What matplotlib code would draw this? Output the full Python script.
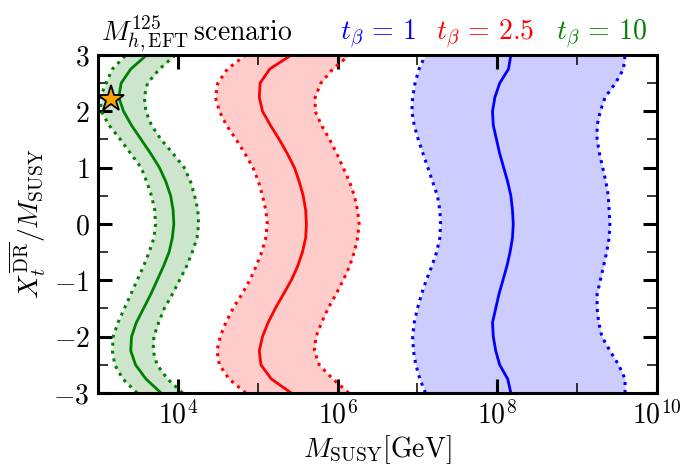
import numpy as np
import matplotlib
matplotlib.use("Agg")
import matplotlib.pyplot as plt
from matplotlib.ticker import FixedLocator, FixedFormatter, NullFormatter

plt.rcParams['mathtext.fontset'] = 'cm'
plt.rcParams['font.family'] = ['DejaVu Serif']

# X_t / M_SUSY grid
xt = [-3, -2.75, -2.5, -2.25, -2, -1.75, -1.5, -1.25, -1, -0.75, -0.5, -0.25, 0,
      0.25, 0.5, 0.75, 1, 1.25, 1.5, 1.75, 2, 2.25, 2.5, 2.75, 3]

# log10(M_SUSY / GeV) for each curve
tb10_central = [3.79, 3.60, 3.47, 3.41, 3.42, 3.48, 3.57, 3.66, 3.74, 3.82, 3.89, 3.93, 3.95,
                3.94, 3.91, 3.85, 3.77, 3.66, 3.54, 3.42, 3.32, 3.26, 3.29, 3.41, 3.61]
tb10_low = [3.49, 3.31, 3.21, 3.18, 3.19, 3.25, 3.33, 3.41, 3.49, 3.57, 3.64, 3.70, 3.72,
            3.71, 3.67, 3.61, 3.54, 3.41, 3.28, 3.14, 3.04, 3.03, 3.10, 3.18, 3.35]
tb10_high = [4.06, 3.87, 3.74, 3.69, 3.70, 3.76, 3.83, 3.93, 4.02, 4.11, 4.18, 4.24, 4.26,
             4.25, 4.21, 4.16, 4.08, 3.94, 3.79, 3.67, 3.60, 3.58, 3.62, 3.77, 3.97]

tb25_central = [5.42, 5.17, 5.04, 5.02, 5.06, 5.13, 5.22, 5.32, 5.42, 5.50, 5.56, 5.60, 5.61,
                5.60, 5.57, 5.52, 5.46, 5.37, 5.27, 5.16, 5.06, 5.02, 5.03, 5.15, 5.42]
tb25_low = [4.85, 4.64, 4.52, 4.49, 4.53, 4.60, 4.69, 4.80, 4.90, 4.98, 5.05, 5.10, 5.12,
            5.10, 5.06, 5.01, 4.94, 4.84, 4.73, 4.61, 4.52, 4.47, 4.50, 4.62, 4.85]
tb25_high = [6.14, 5.94, 5.77, 5.71, 5.73, 5.80, 5.88, 5.98, 6.07, 6.15, 6.21, 6.25, 6.27,
             6.25, 6.21, 6.15, 6.07, 5.99, 5.90, 5.80, 5.72, 5.72, 5.79, 5.94, 6.15]

tb1_central = [8.17, 8.13, 8.03, 7.98, 7.95, 7.94, 7.98, 8.02, 8.07, 8.12, 8.16, 8.19, 8.20,
               8.19, 8.17, 8.13, 8.08, 8.03, 7.99, 7.95, 7.94, 7.97, 8.03, 8.14, 8.17]
tb1_low = [7.10, 7.03, 6.98, 6.95, 6.94, 6.96, 7.00, 7.05, 7.11, 7.18, 7.24, 7.28, 7.29,
           7.28, 7.25, 7.19, 7.13, 7.07, 7.01, 6.96, 6.93, 6.94, 6.97, 7.02, 7.10]
tb1_high = [9.60, 9.60, 9.52, 9.41, 9.31, 9.27, 9.25, 9.25, 9.29, 9.33, 9.37, 9.40, 9.41,
            9.40, 9.39, 9.36, 9.32, 9.28, 9.25, 9.25, 9.29, 9.35, 9.48, 9.58, 9.60]

star_M = 1.47e3
star_xt = 2.22

xmajor = [1e4, 1e6, 1e8, 1e10]
xmajor_labels = [r"$10^{4}$", r"$10^{6}$", r"$10^{8}$", r"$10^{10}$"]
xminor = [1e5, 1e7, 1e9]
ymajor = [-3, -2, -1, 0, 1, 2, 3]
ymajor_labels = [r"$-3$", r"$-2$", r"$-1$", r"$0$", r"$1$", r"$2$", r"$3$"]
yminor = [-2.5, -1.5, -0.5, 0.5, 1.5, 2.5]

fig = plt.figure(figsize=(6.94, 4.76), dpi=100)
ax = fig.add_axes([0.1412, 0.1744, 0.9467 - 0.1412, 0.8845 - 0.1744])

series = [
    (tb10_central, tb10_low, tb10_high, 'green'),
    (tb25_central, tb25_low, tb25_high, 'red'),
    (tb1_central, tb1_low, tb1_high, 'blue'),
]
xt_arr = np.array(xt)
for c, lo, hi, col in series:
    c = 10 ** np.array(c)
    lo = 10 ** np.array(lo)
    hi = 10 ** np.array(hi)
    ax.fill_betweenx(xt_arr, lo, hi, color=col, alpha=0.2, lw=0)
    ax.plot(lo, xt_arr, color=col, lw=2.2, ls=(0, (1, 1.6)), solid_joinstyle='round')
    ax.plot(hi, xt_arr, color=col, lw=2.2, ls=(0, (1, 1.6)), solid_joinstyle='round')
    ax.plot(c, xt_arr, color=col, lw=2.0, solid_joinstyle='round')

ax.plot([star_M], [star_xt], marker='*', ms=20, color='orange',
        markeredgecolor='black', markeredgewidth=1.3, zorder=10)

ax.set_xscale('log')
ax.set_xlim(1e3, 1e10)
ax.set_ylim(-3, 3)

ax.xaxis.set_major_locator(FixedLocator(xmajor))
ax.xaxis.set_major_formatter(FixedFormatter(xmajor_labels))
ax.xaxis.set_minor_locator(FixedLocator(xminor))
ax.xaxis.set_minor_formatter(NullFormatter())
ax.yaxis.set_major_locator(FixedLocator(ymajor))
ax.yaxis.set_major_formatter(FixedFormatter(ymajor_labels))
ax.yaxis.set_minor_locator(FixedLocator(yminor))

ax.tick_params(which='major', direction='in', length=10, width=2.2,
               top=True, right=True, labelsize=20, pad=6)
ax.tick_params(which='minor', direction='in', length=7.5, width=1.1,
               top=True, right=True)
for s in ax.spines.values():
    s.set_linewidth(2.2)

ax.set_xlabel(r"$M_{\mathrm{SUSY}}[\mathrm{GeV}]$", fontsize=20, labelpad=2)
ax.set_ylabel(r"$X_t^{\overline{\mathrm{DR}}}/M_{\mathrm{SUSY}}$", fontsize=20, labelpad=4)

fig.text(0.1455, 0.917, r"$M^{125}_{h,\mathrm{EFT}}\,\mathrm{scenario}$", fontsize=20,
         va='baseline', ha='left')
fig.text(0.490, 0.917, r"$t_\beta\,=\,1$", fontsize=20, color='blue', va='baseline', ha='left')
fig.text(0.628, 0.917, r"$t_\beta\,=\,2.5$", fontsize=20, color='red', va='baseline', ha='left')
fig.text(0.801, 0.917, r"$t_\beta\,=\,10$", fontsize=20, color='green', va='baseline', ha='left')

fig.savefig("out.png", dpi=100)
